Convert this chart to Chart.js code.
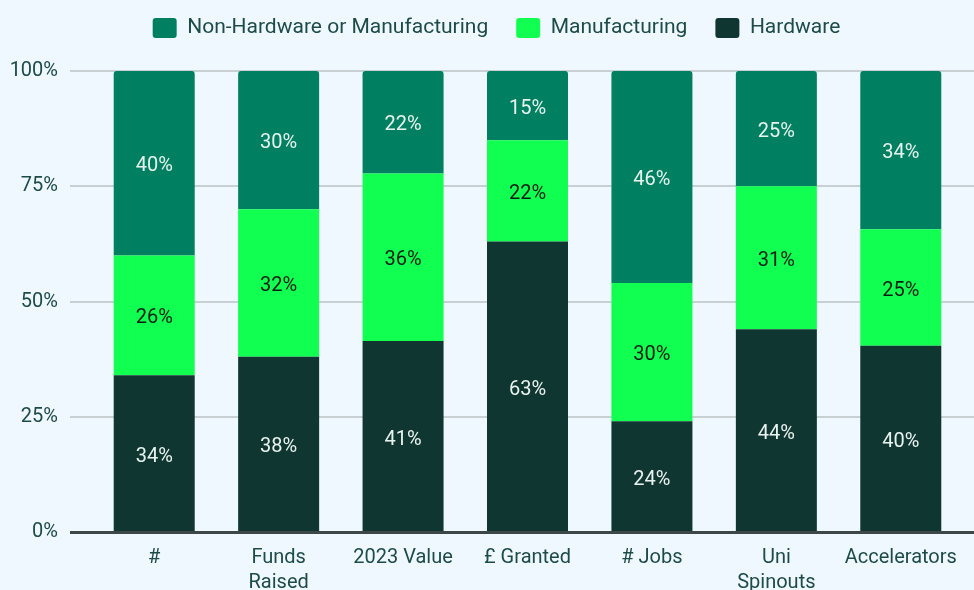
<!DOCTYPE html>
<html>
<head>
<meta charset="utf-8">
<script src="https://cdn.jsdelivr.net/npm/chart.js@4/dist/chart.umd.min.js"></script>
<style>
  html, body { margin: 0; padding: 0; background: #f0f8ff; }
  #wrap { width: 974px; height: 590px; }
</style>
</head>
<body>
<div id="wrap"><canvas id="mainChart" width="974" height="590"></canvas></div>
<script>
// Share of each category by segment (percent, as labelled)
const categories = ['#', ['Funds', 'Raised'], '2023 Value', '£ Granted', '# Jobs', ['Uni', 'Spinouts'], 'Accelerators'];
const hardware = [34, 38, 41, 63, 24, 44, 40];
const manufacturing = [26, 32, 36, 22, 30, 31, 25];
const nonHardware = [40, 30, 22, 15, 46, 25, 34];
const yTicks = [0, 25, 50, 75, 100];

const textColor = '#1d4b45';

// each column is drawn as a share of its own total so the stack fills 100%
const totals = categories.map((_, i) => hardware[i] + manufacturing[i] + nonHardware[i]);
const share = arr => arr.map((v, i) => v / totals[i] * 100);

// background, extended gridlines and baseline
const backdrop = {
    id: 'backdrop',
    afterLayout(chart) {
        // let the y tick labels use the space left of the padding (no clipping of "100%")
        chart.scales.y.left = 0;
    },
    beforeDraw(chart) {
        const c = chart.ctx;
        c.save();
        c.fillStyle = '#f0f8ff';
        c.fillRect(0, 0, chart.width, chart.height);
        c.restore();
    },
    beforeDatasetsDraw(chart) {
        const c = chart.ctx;
        const y = chart.scales.y;
        c.save();
        c.strokeStyle = '#c9d0d3';
        c.lineWidth = 2;
        yTicks.slice(1).forEach(t => {
            const py = Math.round(y.getPixelForValue(t));
            c.beginPath();
            c.moveTo(70, py);
            c.lineTo(chart.width, py);
            c.stroke();
        });
        c.restore();
    },
    afterDatasetsDraw(chart) {
        const c = chart.ctx;
        const py = Math.round(chart.scales.y.getPixelForValue(0)) + 0.5;
        c.save();
        c.strokeStyle = '#3d4747';
        c.lineWidth = 3;
        c.beginPath();
        c.moveTo(70, py);
        c.lineTo(chart.width, py);
        c.stroke();
        c.restore();
    }
};

// value labels in the middle of each segment
const segmentLabels = {
    id: 'segmentLabels',
    afterDatasetsDraw(chart) {
        const c = chart.ctx;
        c.save();
        c.font = '20px Roboto';
        c.textAlign = 'center';
        c.textBaseline = 'middle';
        chart.data.datasets.forEach((ds, di) => {
            const meta = chart.getDatasetMeta(di);
            c.fillStyle = ds.labelColor;
            meta.data.forEach((bar, i) => {
                c.fillText(ds.raw[i] + '%', bar.x, (bar.y + bar.base) / 2 + 3);
            });
        });
        c.restore();
    }
};

const ctx = document.getElementById('mainChart').getContext('2d');

const mainChart = new Chart(ctx, {
    type: 'bar',
    data: {
        labels: categories,
        datasets: [{
            label: 'Hardware',
            raw: hardware,
            data: share(hardware),
            backgroundColor: '#103632',
            labelColor: '#e8f3ef'
        }, {
            label: 'Manufacturing',
            raw: manufacturing,
            data: share(manufacturing),
            backgroundColor: '#10ff50',
            labelColor: '#0b1c12'
        }, {
            label: 'Non-Hardware or Manufacturing',
            raw: nonHardware,
            data: share(nonHardware),
            backgroundColor: '#008060',
            labelColor: '#e8f3ef',
            borderRadius: { topLeft: 3, topRight: 3, bottomLeft: 0, bottomRight: 0 },
            borderSkipped: 'bottom'
        }]
    },
    options: {
        responsive: false,
        animation: false,
        layout: { padding: { top: -10.5, right: 11, left: 30, bottom: 0 } },
        datasets: { bar: { barPercentage: 1, categoryPercentage: 0.651 } },
        plugins: {
            legend: {
                reverse: true,
                labels: {
                    color: textColor,
                    font: { family: 'Roboto', size: 21 },
                    boxWidth: 24,
                    boxHeight: 20,
                    useBorderRadius: true,
                    borderRadius: 3,
                    padding: 28
                }
            },
            // empty spacer between legend and plot
            subtitle: {
                display: true,
                text: '',
                weight: 500,
                font: { size: 10, lineHeight: 1 },
                padding: { top: 12.5, bottom: 0 }
            },
            tooltip: { enabled: false }
        },
        scales: {
            x: {
                stacked: true,
                grid: { display: false, drawTicks: false },
                border: { display: false },
                afterFit: scale => { scale.height = 58; },
                ticks: {
                    color: textColor,
                    font: { family: 'Roboto', size: 20, lineHeight: 1.25 },
                    padding: 13,
                    maxRotation: 0,
                    autoSkip: false
                }
            },
            y: {
                stacked: true,
                min: 0,
                max: 100,
                afterBuildTicks: scale => { scale.ticks = yTicks.map(v => ({ value: v })); },
                afterFit: scale => { scale.width = 62; },
                grid: { display: false, drawTicks: false },
                border: { display: false },
                ticks: {
                    color: textColor,
                    font: { family: 'Roboto', size: 20 },
                    padding: 34,
                    callback: v => v + '%'
                }
            }
        }
    },
    plugins: [backdrop, segmentLabels]
});
</script>
</body>
</html>
